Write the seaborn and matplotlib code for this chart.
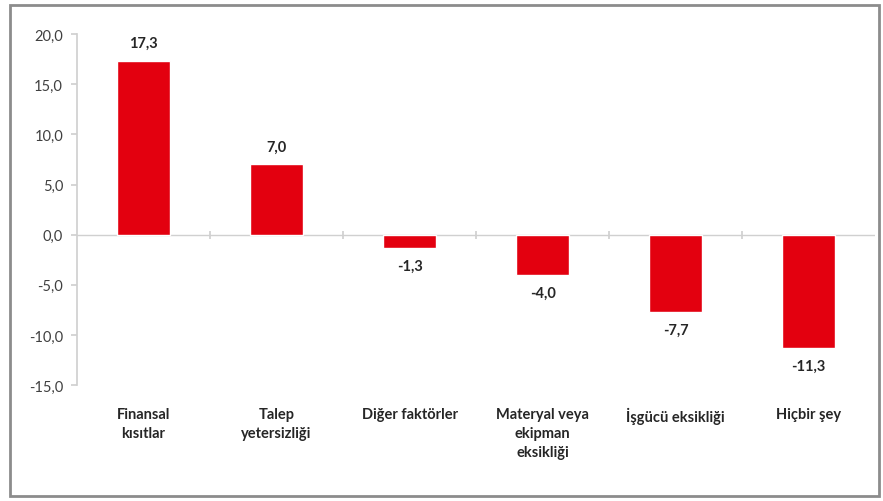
import matplotlib
matplotlib.use("Agg")
import matplotlib.pyplot as plt
import seaborn as sns
import pandas as pd
from matplotlib.patches import Rectangle

# Data
categories = ["Finansal\nkısıtlar", "Talep\nyetersizliği", "Diğer faktörler",
              "Materyal veya\nekipman\neksikliği", "İşgücü eksikliği", "Hiçbir şey"]
values = [17.3, 7.0, -1.3, -4.0, -7.7, -11.3]
yticks = [-15, -10, -5, 0, 5, 10, 15, 20]

df = pd.DataFrame({"kategori": categories, "deger": values})

sns.set_theme(style="white")
plt.rcParams["font.family"] = ["Lato", "DejaVu Sans"]

fig = plt.figure(figsize=(8.83, 5.02), dpi=100)
ax = fig.add_axes([0.0872, 0.231, 0.904, 0.699])

sns.barplot(data=df, x="kategori", y="deger", color="#E3000F", width=0.4,
            saturation=1, ax=ax)

ax.set_ylim(-15, 20)
ax.set_yticks(yticks)
ax.set_yticklabels([f"{t:.1f}".replace(".", ",") for t in yticks],
                   fontsize=10.5, color="#404040")
ax.set_xlim(-0.5, len(categories) - 0.5)
ax.set_xlabel("")
ax.set_ylabel("")

for s in ["top", "right", "bottom"]:
    ax.spines[s].set_visible(False)
ax.spines["left"].set_color("#d0d0d0")
ax.tick_params(axis="y", left=True, length=4, color="#d0d0d0", pad=6)
ax.tick_params(axis="x", bottom=False, pad=10)
for lbl in ax.get_xticklabels():
    lbl.set_fontweight("bold")
    lbl.set_fontsize(10.5)
    lbl.set_color("#262626")
    lbl.set_verticalalignment("top")
    lbl.set_linespacing(1.45)

# zero line with small ticks between categories
ax.axhline(0, color="#d0d0d0", lw=1, zorder=0)
sec = ax.secondary_xaxis(15 / 35)
sec.set_xticks([i + 0.5 for i in range(len(categories) - 1)])
sec.set_xticklabels([])
sec.tick_params(direction="inout", length=6, color="#d0d0d0")
sec.spines["bottom"].set_visible(False)
sec.spines["top"].set_visible(False)

# value labels
for i, v in enumerate(values):
    txt = f"{v:.1f}".replace(".", ",")
    if v >= 0:
        ax.annotate(txt, (i, v), xytext=(0, 8), textcoords="offset points",
                    ha="center", va="bottom", fontsize=10.5, fontweight="bold",
                    color="#262626")
    else:
        ax.annotate(txt, (i, v), xytext=(0, -8), textcoords="offset points",
                    ha="center", va="top", fontsize=10.5, fontweight="bold",
                    color="#262626")

# outer frame
fig.patches.append(Rectangle((0.011, 0.01), 0.984, 0.978, transform=fig.transFigure,
                             fill=False, edgecolor="#8c8c8c", lw=2))

fig.savefig("out.png", dpi=100)
